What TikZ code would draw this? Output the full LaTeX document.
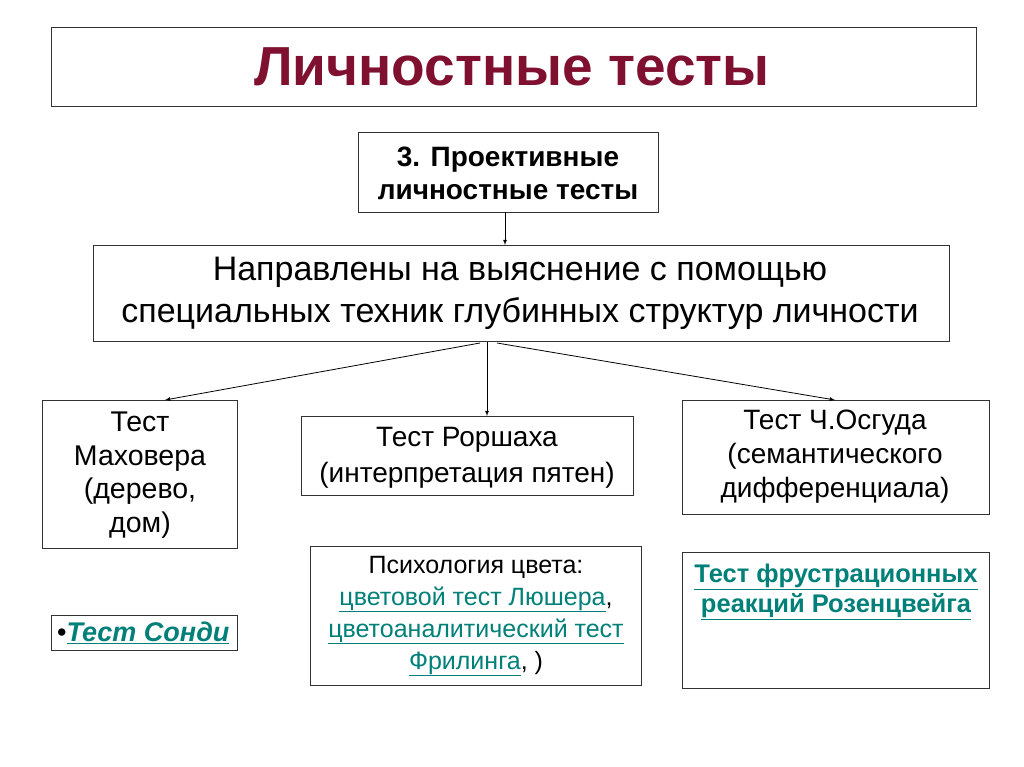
\documentclass[tikz,border=0pt]{standalone}
\usepackage{fontspec}
\setmainfont{Liberation Sans}
\begin{document}
\begin{tikzpicture}[x=1pt,y=-1pt,
 box/.style={draw=black!80,line width=0.8pt,fill=white},
 arr/.style={-latex,line width=0.8pt}]
\definecolor{ttl}{RGB}{128,16,48}
\definecolor{lk}{RGB}{0,128,120}
\newcommand{\lnkt}[1]{\textcolor{lk}{\underline{#1}}}
\useasboundingbox[fill=white] (0,0) rectangle (1024,767);
\draw[box] (51,27) rectangle (976,106);
\node[font=\fontsize{55}{60}\selectfont\bfseries,text=ttl] (t) at (512,67) {Личностные тесты};
\draw[box] (358,132) rectangle (658,212);
\node[align=center,font=\fontsize{28}{33}\selectfont\bfseries] (p) at (508,173) {3. Проективные\\ личностные тесты};
\coordinate (pb) at (505,212);
\draw[box] (93,245) rectangle (949,341);
\node[align=center,font=\fontsize{34}{42}\selectfont] (m) at (520,293) {Направлены на выяснение с помощью\\ специальных техник глубинных структур личности};
\coordinate (mt) at (505,245);
\coordinate (mb) at (487,342);
\coordinate (ml) at (480,343);
\coordinate (mr) at (497,343);
\draw[box] (42,400) rectangle (237,548);
\node[align=center,font=\fontsize{28.5}{33.5}\selectfont] (l) at (140,475) {Тест\\ Маховера\\ (дерево,\\ дом)};
\coordinate (lt) at (165,400);
\draw[box] (301,416) rectangle (633,495);
\node[align=center,font=\fontsize{28}{36}\selectfont] (c) at (467,458) {Тест Роршаха\\ (интерпретация пятен)};
\coordinate (ct) at (487,416);
\draw[box] (682,400) rectangle (989,514);
\node[align=center,font=\fontsize{28}{34}\selectfont] (r) at (835,457) {Тест Ч.Осгуда\\ (семантического\\ дифференциала)};
\coordinate (rt) at (835,400);
\draw[arr] (pb) -- (mt);
\draw[arr] (mb) -- (ct);
\draw[arr] (ml) -- (lt);
\draw[arr] (mr) -- (rt);
\draw[box] (310,546) rectangle (641,685);
\node[align=center,font=\fontsize{25}{32}\selectfont] (ps) at (476,616) {Психология цвета:\\ \lnkt{цветовой тест Люшера},\\ \lnkt{цветоаналитический тест}\\ \lnkt{Фрилинга}, )};
\draw[box] (682,552) rectangle (989,688);
\node[align=center,font=\fontsize{25.5}{30}\selectfont\bfseries] (rz) at (836,592) {\lnkt{Тест фрустрационных}\\ \lnkt{реакций Розенцвейга}};
\draw[box] (51,615) rectangle (237,650);
\node[anchor=west,inner sep=0pt,font=\fontsize{27}{30}\selectfont] (s) at (57,633) {•\textit{\bfseries\lnkt{Тест Сонди}}};
\end{tikzpicture}
\end{document}
